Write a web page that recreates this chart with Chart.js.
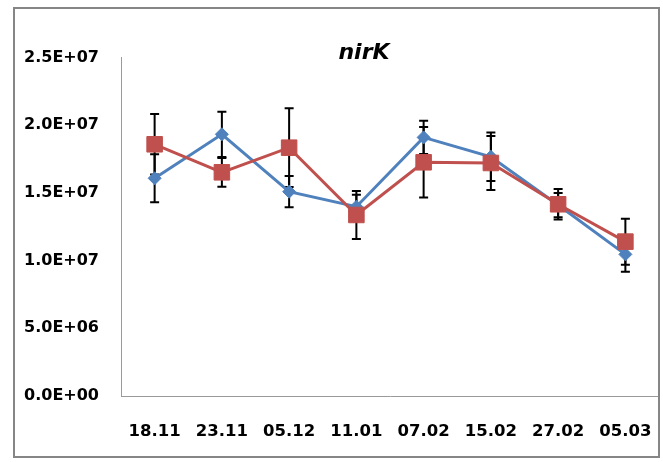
<!DOCTYPE html>
<html>
<head>
<meta charset="utf-8">
<script src="https://cdn.jsdelivr.net/npm/chart.js@4"></script>
<style>
  html, body { margin: 0; padding: 0; background: #fff; }
  #wrap { width: 663px; height: 462px; }
</style>
</head>
<body>
<div id="wrap"><canvas id="myChart" width="663" height="462"></canvas></div>
<script>
// data
const dates = ['18.11', '23.11', '05.12', '11.01', '07.02', '15.02', '27.02', '05.03'];
const blueValues = [1.608e7, 1.933e7, 1.509e7, 1.398e7, 1.910e7, 1.767e7, 1.410e7, 1.046e7];
const blueErrors = [1.77e6, 1.67e6, 1.15e6, 0.88e6, 1.23e6, 1.80e6, 0.90e6, 1.28e6];
const redValues = [1.859e7, 1.652e7, 1.834e7, 1.337e7, 1.726e7, 1.721e7, 1.416e7, 1.140e7];
const redErrors = [2.24e6, 1.06e6, 2.91e6, 1.77e6, 2.60e6, 2.00e6, 1.13e6, 1.70e6];
const yTicks = [0, 5e6, 1e7, 1.5e7, 2e7, 2.5e7];

const FONT = '"DejaVu Sans", sans-serif';

// 2.5E+07 style labels
function sci(v) {
    const parts = v.toExponential(1).split('e');
    const exp = parts[1];
    return parts[0] + 'E' + exp[0] + exp.slice(1).padStart(2, '0');
}

// error bars, drawn under the lines and markers
const errorBars = {
    id: 'errorBars',
    beforeDatasetsDraw(chart) {
        const { ctx, scales: { x, y } } = chart;
        ctx.save();
        ctx.strokeStyle = '#000';
        ctx.lineWidth = 2;
        chart.data.datasets.forEach(ds => {
            ds.data.forEach((v, i) => {
                const px = x.getPixelForValue(i);
                const top = y.getPixelForValue(v + ds.errors[i]);
                const bot = y.getPixelForValue(v - ds.errors[i]);
                ctx.beginPath();
                ctx.moveTo(px, top);
                ctx.lineTo(px, bot);
                ctx.moveTo(px - 4.5, top);
                ctx.lineTo(px + 4.5, top);
                ctx.moveTo(px - 4.5, bot);
                ctx.lineTo(px + 4.5, bot);
                ctx.stroke();
            });
        });
        ctx.restore();
    }
};

// outer frame and title
const frame = {
    id: 'frame',
    afterDraw(chart) {
        const ctx = chart.ctx;
        ctx.save();
        ctx.strokeStyle = '#868686';
        ctx.lineWidth = 2;
        ctx.strokeRect(14, 8, 645, 449);
        ctx.fillStyle = '#000';
        ctx.font = 'italic bold 22px ' + FONT;
        ctx.textAlign = 'center';
        ctx.textBaseline = 'middle';
        ctx.fillText('nirK', 364, 53);
        ctx.restore();
    }
};

const ctx = document.getElementById('myChart').getContext('2d');

new Chart(ctx, {
    type: 'line',
    data: {
        labels: dates,
        datasets: [{
            label: 'blue',
            data: blueValues,
            errors: blueErrors,
            borderColor: '#4F81BD',
            backgroundColor: '#4F81BD',
            borderWidth: 3,
            pointStyle: 'rectRot',
            pointRadius: 6.5,
            pointBorderWidth: 1,
            tension: 0,
            order: 2
        }, {
            label: 'red',
            data: redValues,
            errors: redErrors,
            borderColor: '#C0504D',
            backgroundColor: '#C0504D',
            borderWidth: 3,
            pointStyle: 'rect',
            pointRadius: 11,
            pointBorderWidth: 1,
            tension: 0,
            order: 1
        }]
    },
    options: {
        responsive: false,
        animation: false,
        layout: { autoPadding: false, padding: { top: 57.5, right: 4, bottom: 0, left: 0 } },
        plugins: {
            legend: { display: false },
            title: { display: false },
            tooltip: { enabled: false }
        },
        scales: {
            x: {
                offset: true,
                grid: { color: 'transparent', drawTicks: false },
                border: { display: true, color: '#9a9a9a', width: 1 },
                ticks: {
                    color: '#000',
                    padding: 26,
                    maxRotation: 0,
                    font: { family: FONT, size: 16.5, weight: 'bold' }
                },
                afterFit(scale) {
                    scale.height = 66;
                    scale.paddingLeft = 0;
                    scale.paddingRight = 0;
                }
            },
            y: {
                min: 0,
                max: 2.5e7,
                afterBuildTicks(scale) { scale.ticks = yTicks.map(v => ({ value: v })); },
                grid: { color: 'transparent', drawTicks: false },
                border: { display: true, color: '#9a9a9a', width: 1 },
                ticks: {
                    color: '#000',
                    padding: 22,
                    font: { family: FONT, size: 16, weight: 'bold' },
                    callback: v => sci(v)
                },
                afterFit(scale) {
                    scale.width = 121;
                    scale.paddingTop = 0;
                    scale.paddingBottom = 0;
                }
            }
        }
    },
    plugins: [errorBars, frame]
});
</script>
</body>
</html>
